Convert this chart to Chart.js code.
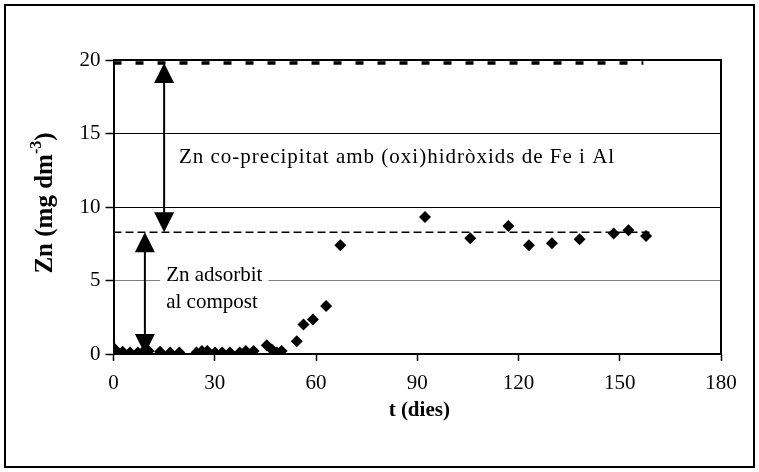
<!DOCTYPE html>
<html>
<head>
<meta charset="utf-8">
<script src="https://cdn.jsdelivr.net/npm/chart.js@4.4.0/dist/chart.umd.min.js"></script>
<style>
  html, body { margin: 0; padding: 0; background: #fff; }
  #wrap { width: 759px; height: 472px; position: relative; }
</style>
</head>
<body>
<div id="wrap"><canvas id="chart"></canvas></div>
<script>
// measured Zn in solution (mg dm-3) against time (days)
const days = [0.5, 2.7, 4.9, 7.2, 9.0, 10.4, 13.8, 16.8, 19.5, 24.6, 26.2, 27.8, 30.1, 32.2, 34.5, 37.4, 39.2, 41.5, 45.4, 46.9, 48.4, 49.8,
              54.3, 56.3, 59.1, 63.0, 67.2, 92.3, 105.7, 117.0, 123.1, 129.9, 138.1, 148.2, 152.6, 157.8];
const zn = [0.3, 0.15, 0.1, 0.1, 0.2, 0.2, 0.15, 0.1, 0.1, 0.1, 0.2, 0.2, 0.1, 0.1, 0.1, 0.1, 0.2, 0.2, 0.6, 0.3, 0.1, 0.2,
            0.87, 2.0, 2.35, 3.26, 7.39, 9.32, 7.87, 8.71, 7.39, 7.53, 7.8, 8.19, 8.41, 8.02];

// reference levels
const totalZn = 19.8;
const totalZnDays = [0, 157];
const adsorbedZn = 8.28;
const adsorbedZnDays = [0, 160];

// double arrows: day, lower value, upper value
const arrowDays = [15, 9.3];
const arrowLow = [8.28, 0];
const arrowHigh = [19.8, 8.28];

const xTicks = [0, 30, 60, 90, 120, 150, 180];
const yTicks = [0, 5, 10, 15, 20];

const coprecipLabel = 'Zn co-precipitat amb (oxi)hidròxids de Fe i Al';
const adsorbLabel = ['Zn adsorbit', 'al compost'];
const xTitle = 't (dies)';

const serif = "'Liberation Serif', 'Times New Roman', serif";

function arrowHead(ctx, x, y, dir) {
  // dir = -1 points up, 1 points down; (x, y) is the tip
  ctx.beginPath();
  ctx.moveTo(x, y);
  ctx.lineTo(x - 10, y - dir * 20);
  ctx.lineTo(x + 10, y - dir * 20);
  ctx.closePath();
  ctx.fill();
}

const decor = {
  id: 'decor',
  beforeDraw(chart) {
    const ctx = chart.ctx;
    ctx.save();
    ctx.fillStyle = '#fff';
    ctx.fillRect(0, 0, chart.width, chart.height);
    ctx.strokeStyle = '#000';
    ctx.lineWidth = 2;
    ctx.strokeRect(5, 5, chart.width - 10, chart.height - 10);
    ctx.restore();
  },
  afterDatasetsDraw(chart) {
    const ctx = chart.ctx;
    const xs = chart.scales.x, ys = chart.scales.y;
    const a = chart.chartArea;
    ctx.save();

    // frame top and right
    ctx.strokeStyle = '#000';
    ctx.lineWidth = 2;
    ctx.beginPath();
    ctx.moveTo(a.left, a.top);
    ctx.lineTo(a.right, a.top);
    ctx.lineTo(a.right, a.bottom);
    ctx.stroke();

    // arrows
    ctx.fillStyle = '#000';
    ctx.lineWidth = 2;
    arrowDays.forEach((d, i) => {
      const x = xs.getPixelForValue(d);
      const yLo = ys.getPixelForValue(arrowLow[i]);
      const yHi = ys.getPixelForValue(arrowHigh[i]);
      ctx.beginPath();
      ctx.moveTo(x, yHi + 10);
      ctx.lineTo(x, yLo - 10);
      ctx.stroke();
      arrowHead(ctx, x, yHi, -1);
      arrowHead(ctx, x, yLo, 1);
    });

    // annotation texts
    ctx.font = '21px ' + serif;
    ctx.textBaseline = 'middle';
    ctx.textAlign = 'left';
    ctx.fillStyle = '#000';
    ctx.letterSpacing = '1px';
    ctx.fillText(coprecipLabel, xs.getPixelForValue(19.4), ys.getPixelForValue(13.35));
    ctx.letterSpacing = '0px';

    const ax = xs.getPixelForValue(15.6);
    const w = Math.max(...adsorbLabel.map(t => ctx.measureText(t).width));
    ctx.fillStyle = '#fff';
    ctx.fillRect(ax - 6, ys.getPixelForValue(5.33) - 12, w + 12, 24);
    ctx.fillStyle = '#000';
    ctx.fillText(adsorbLabel[0], ax, ys.getPixelForValue(5.33));
    ctx.fillText(adsorbLabel[1], ax, ys.getPixelForValue(3.5));

    // axis titles
    ctx.font = 'bold 21px ' + serif;
    ctx.textAlign = 'center';
    ctx.fillText(xTitle, (a.left + a.right) / 2 + 2, 411);

    ctx.translate(46, 203);
    ctx.rotate(-Math.PI / 2);
    const main = 'Zn (mg dm';
    const sup = '-3';
    const close = ')';
    ctx.font = 'bold 25px ' + serif;
    const wMain = ctx.measureText(main).width;
    const wClose = ctx.measureText(close).width;
    ctx.font = 'bold 16px ' + serif;
    const wSup = ctx.measureText(sup).width;
    const x0 = -(wMain + wSup + wClose) / 2;
    ctx.textAlign = 'left';
    ctx.font = 'bold 25px ' + serif;
    ctx.fillText(main, x0, 0);
    ctx.font = 'bold 16px ' + serif;
    ctx.fillText(sup, x0 + wMain, -9);
    ctx.font = 'bold 25px ' + serif;
    ctx.fillText(close, x0 + wMain + wSup, 0);

    ctx.restore();
  }
};

new Chart(document.getElementById('chart'), {
  type: 'scatter',
  data: {
    datasets: [
      {
        label: 'Zn',
        data: days.map((d, i) => ({ x: d, y: zn[i] })),
        pointStyle: 'rectRot',
        pointRadius: 6,
        backgroundColor: '#000',
        borderColor: '#000',
        borderWidth: 0
      },
      {
        type: 'line',
        label: 'Zn total',
        data: totalZnDays.map(d => ({ x: d, y: totalZn })),
        borderColor: '#000',
        borderWidth: 3.5,
        borderDash: [8, 14],
        pointRadius: 0
      },
      {
        type: 'line',
        label: 'Zn adsorbit',
        data: adsorbedZnDays.map(d => ({ x: d, y: adsorbedZn })),
        borderColor: '#000',
        borderWidth: 1.5,
        borderDash: [8, 4],
        pointRadius: 0
      }
    ]
  },
  options: {
    responsive: true,
    maintainAspectRatio: false,
    animation: false,
    layout: { padding: { top: 60, right: 38, left: 0, bottom: 0 } },
    plugins: { legend: { display: false }, tooltip: { enabled: false } },
    scales: {
      x: {
        type: 'linear',
        min: 0,
        max: 180,
        afterBuildTicks: s => { s.ticks = xTicks.map(v => ({ value: v })); },
        afterFit: s => { s.height = 118; },
        grid: { drawOnChartArea: false, drawTicks: true, tickLength: 7, tickColor: '#000', tickWidth: 1.5 },
        border: { color: '#000', width: 2 },
        ticks: { color: '#000', font: { family: serif, size: 21 }, padding: 10, maxRotation: 0 }
      },
      y: {
        min: 0,
        max: 20,
        afterBuildTicks: s => { s.ticks = yTicks.map(v => ({ value: v })); },
        afterFit: s => { s.width = 113.5; },
        grid: {
          color: c => (c.tick && c.tick.value === 5) ? '#808080' : ((c.tick && (c.tick.value === 10 || c.tick.value === 15)) ? '#000' : 'rgba(0,0,0,0)'),
          lineWidth: 1,
          drawTicks: true,
          tickLength: 8,
          tickColor: '#000',
          tickWidth: 1.5
        },
        border: { color: '#000', width: 2 },
        ticks: { color: '#000', font: { family: serif, size: 21 }, padding: 5 }
      }
    }
  },
  plugins: [decor]
});
</script>
</body>
</html>
